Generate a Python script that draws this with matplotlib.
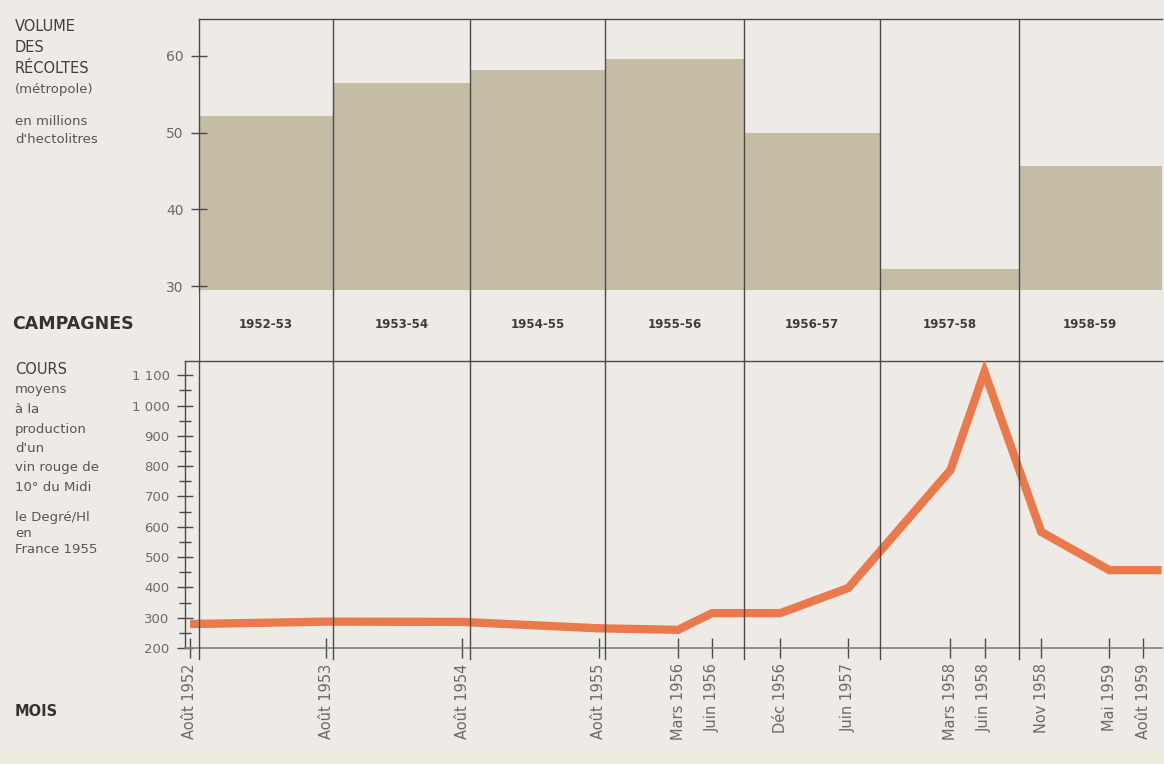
import matplotlib

matplotlib.use("Agg")
import matplotlib.pyplot as plt
from matplotlib.patches import Rectangle
from matplotlib.ticker import FixedLocator, MultipleLocator

# --- data -------------------------------------------------------------
campaigns = ["1952-53", "1953-54", "1954-55", "1955-56", "1956-57", "1957-58", "1958-59"]
# campaign boundaries, in months counted from August 1952
campaign_edges = [0.8, 12.6, 24.7, 36.6, 48.8, 60.8, 73.0, 85.6]
harvest = [52.1, 56.4, 58.2, 59.6, 49.9, 32.2, 45.6]  # millions d'hl

price_months = [0, 12, 24, 36, 43, 46, 52, 58, 67, 70, 75, 81, 85.6]
price = [279, 287, 286, 265, 260, 315, 315, 398, 787, 1111, 583, 457, 457]

tick_months = [0, 12, 24, 36, 43, 46, 52, 58, 67, 70, 75, 81, 84]
tick_labels = ["Août 1952", "Août 1953", "Août 1954", "Août 1955", "Mars 1956",
               "Juin 1956", "Déc 1956", "Juin 1957", "Mars 1958", "Juin 1958",
               "Nov 1958", "Mai 1959", "Août 1959"]
price_ticks = [200, 300, 400, 500, 600, 700, 800, 900, 1000, 1100]
price_tick_labels = ["200", "300", "400", "500", "600", "700", "800", "900", "1 000", "1 100"]

# --- layout helpers (pixels of a 1164x764 canvas) ----------------------
W, H = 1164, 764
BG = "#eeebe7"
LINE = "#4a4a4a"
GREY = "#6a6a6a"
TEXT = "#3e3e3e"


def rect(left, right, top, bottom):
    return [left / W, 1 - bottom / H, (right - left) / W, (bottom - top) / H]


def px_to_month(p):
    return (p - 190) / 11.35


fig = plt.figure(figsize=(W / 100, H / 100), dpi=100, facecolor=BG)
# slightly warmer strip along the bottom edge of the scan
fig.patches.append(Rectangle((0, 0), 1, 12 / H, transform=fig.transFigure,
                             facecolor="#efebe0", edgecolor="none", zorder=0))

ax_top = fig.add_axes(rect(199, 1162, 19, 290), facecolor="none")
ax_mid = fig.add_axes(rect(199, 1162, 290, 361), facecolor="none")
ax_bot = fig.add_axes(rect(185, 1162, 361, 648), facecolor="none")

# upper panel: harvest volume per campaign
lefts = campaign_edges[:-1]
widths = [b - a for a, b in zip(campaign_edges[:-1], campaign_edges[1:])]
ax_top.bar(lefts, [h - 29.5 for h in harvest], widths, bottom=29.5,
           align="edge", color="#c5bca5", linewidth=0)
ax_top.set_xlim(px_to_month(199), px_to_month(1162))
ax_top.set_ylim(29.5, 64.8)
ax_top.set_yticks([30, 40, 50, 60])
ax_top.set_xticks([])
ax_top.tick_params(axis="y", direction="inout", length=12, width=1, color=LINE,
                   labelsize=10, labelcolor=GREY, pad=5)
for s in ("right", "bottom"):
    ax_top.spines[s].set_visible(False)
for s in ("left", "top"):
    ax_top.spines[s].set_color(LINE)
    ax_top.spines[s].set_linewidth(1)

# middle band: campaign names
ax_mid.set_xlim(px_to_month(199), px_to_month(1162))
ax_mid.set_ylim(0, 1)
ax_mid.axis("off")
for name, a, b in zip(campaigns, campaign_edges[:-1], campaign_edges[1:]):
    ax_mid.text((a + b) / 2, 0.52, name, ha="center", va="center",
                fontsize=8.5, fontweight="bold", color="#3c3c3c")

# lower panel: price line
ax_bot.plot(price_months, price, color="#ea7a4b", linewidth=6,
            solid_joinstyle="miter", solid_capstyle="butt", zorder=3)
ax_bot.set_xlim(px_to_month(185), px_to_month(1162))
ax_bot.set_ylim(200, 1147)
ax_bot.yaxis.set_major_locator(FixedLocator(price_ticks))
ax_bot.set_yticklabels(price_tick_labels)
ax_bot.yaxis.set_minor_locator(MultipleLocator(50))
ax_bot.set_xticks(tick_months)
ax_bot.set_xticklabels(tick_labels, rotation=90, va="top", ha="center")
ax_bot.tick_params(axis="y", which="major", direction="inout", length=12, width=1,
                   color=LINE, labelsize=9.5, labelcolor=GREY, pad=5)
ax_bot.tick_params(axis="y", which="minor", direction="inout", length=8, width=1, color=LINE)
ax_bot.tick_params(axis="x", direction="inout", length=14, width=1, color=LINE,
                   labelsize=10.5, labelcolor=GREY, pad=4)
ax_bot.spines["right"].set_visible(False)
for s in ("left", "top"):
    ax_bot.spines[s].set_color(LINE)
    ax_bot.spines[s].set_linewidth(1)
ax_bot.spines["bottom"].set_color("#7a8383")
ax_bot.spines["bottom"].set_linewidth(1.2)

# campaign separators running through all three bands
for e in campaign_edges[1:-1]:
    ax_top.axvline(e, color=LINE, linewidth=1, zorder=4)
    ax_mid.axvline(e, color=LINE, linewidth=1)
    ax_bot.axvline(e, ymin=-0.04, ymax=1, color=LINE, linewidth=1, clip_on=False, zorder=4)
ax_mid.axvline(campaign_edges[0], color=LINE, linewidth=1)
ax_bot.axvline(campaign_edges[0], ymin=-0.04, ymax=1, color=LINE, linewidth=1,
               clip_on=False, zorder=4)


# left-hand captions, one line at a time (pixel centre of each line)
def caption(px, py, s, size=9.5, color="#555555", **kw):
    fig.text(px / W, 1 - py / H, s, ha="left", va="center_baseline",
             fontsize=size, color=color, **kw)


for py, s in [(25, "VOLUME"), (46, "DES"), (67, "RÉCOLTES")]:
    caption(15, py, s, size=10.5, color=TEXT)
caption(15, 88, "(métropole)")
caption(15, 120, "en millions")
caption(15, 138, "d'hectolitres")

caption(12, 322, "CAMPAGNES", size=12.5, color="#333333", fontweight="bold")

caption(15, 368, "COURS", size=10.5, color=TEXT)
for py, s in [(388, "moyens"), (408, "à la"), (428, "production"), (447, "d'un"),
              (466, "vin rouge de"), (486, "10° du Midi"),
              (516, "le Degré/Hl"), (532, "en"), (548, "France 1955")]:
    caption(15, py, s)

caption(15, 710, "MOIS", size=10.5, color="#333333", fontweight="bold")

fig.savefig("out.png", dpi=100, facecolor=BG)
